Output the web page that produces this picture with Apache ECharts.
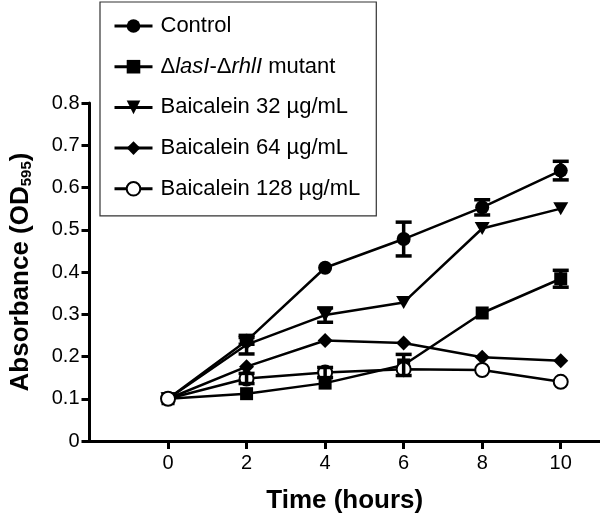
<!DOCTYPE html>
<html><head><meta charset="utf-8">
<script src="https://cdn.jsdelivr.net/npm/echarts@6/dist/echarts.min.js"></script>
<style>html,body{margin:0;padding:0;background:#fff}#c{width:600px;height:519px}</style>
</head><body><div id="c"></div>
<script>
const hours = [0, 2, 4, 6, 8, 10];
const xTicks = [0, 2, 4, 6, 8, 10];
const yTicks = [0, 0.1, 0.2, 0.3, 0.4, 0.5, 0.6, 0.7, 0.8];
const seriesNames = ['Control', 'ΔlasI-ΔrhlI mutant', 'Baicalein 32 µg/mL', 'Baicalein 64 µg/mL', 'Baicalein 128 µg/mL'];
const control   = [0.10, 0.237, 0.41, 0.478, 0.553, 0.64];
const mutant    = [0.10, 0.112, 0.137, 0.18, 0.303, 0.384];
const baic32    = [0.10, 0.228, 0.298, 0.328, 0.503, 0.55];
const baic64    = [0.10, 0.176, 0.238, 0.232, 0.198, 0.19];
const baic128   = [0.10, 0.148, 0.162, 0.17, 0.168, 0.14];
const controlErr = [0, 0.008, 0, 0.04, 0.018, 0.022];
const mutantErr  = [0, 0, 0, 0.025, 0, 0.02];
const baic32Err  = [0, 0.022, 0.017, 0, 0, 0];
const baic64Err  = [0, 0, 0, 0, 0, 0];
const baic128Err = [0, 0.012, 0.012, 0, 0, 0];

const values = [control, mutant, baic32, baic64, baic128];
const errors = [controlErr, mutantErr, baic32Err, baic64Err, baic128Err];
const symbols = ['circle', 'rect', 'triangle', 'diamond', 'emptyCircle'];
const symbolSizes = [14, 13, [15, 13], [15, 15], 14];
const symbolRotate = [0, 0, 180, 0, 0];

const chart = echarts.init(document.getElementById('c'), null, {renderer: 'canvas'});
const series = [];
values.forEach((vals, i) => {
  series.push({
    name: seriesNames[i], type: 'line',
    data: hours.map((h, j) => [h, vals[j]]),
    symbol: symbols[i], symbolSize: symbolSizes[i], symbolRotate: symbolRotate[i],
    showAllSymbol: true,
    lineStyle: {color: '#000', width: 2.5},
    itemStyle: {color: '#000', borderColor: '#000', borderWidth: i === 4 ? 3 : 0},
    emphasis: {disabled: true}, z: 3
  });
});
values.forEach((vals, i) => {
  const d = [];
  hours.forEach((h, j) => { if (errors[i][j] > 0) d.push([h, vals[j] - errors[i][j], vals[j] + errors[i][j]]); });
  series.push({
    type: 'custom', name: 'err' + i, z: 4,
    data: d,
    renderItem: function (params, api) {
      const x = api.value(0);
      const lo = api.coord([x, api.value(1)]);
      const hi = api.coord([x, api.value(2)]);
      const w = 8;
      const st = {stroke: '#000', lineWidth: 3.5};
      return {type: 'group', children: [
        {type: 'line', shape: {x1: lo[0], y1: lo[1], x2: hi[0], y2: hi[1]}, style: st},
        {type: 'line', shape: {x1: lo[0] - w, y1: lo[1], x2: lo[0] + w, y2: lo[1]}, style: st},
        {type: 'line', shape: {x1: hi[0] - w, y1: hi[1], x2: hi[0] + w, y2: hi[1]}, style: st}
      ]};
    },
    encode: {x: 0, y: [1, 2]}
  });
});

const font = 'Liberation Sans, Arial, sans-serif';
chart.setOption({
  animation: false,
  grid: {left: 88, right: 0, top: 103, bottom: 76, containLabel: false},
  legend: {
    data: seriesNames,
    orient: 'vertical', left: 100, top: 2,
    padding: [12, 16, 15, 13],
    borderColor: '#333', borderWidth: 1.2,
    itemWidth: 38, itemHeight: 17, itemGap: 16.7,
    lineStyle: {width: 3, color: '#000'},
    formatter: function (name) {
      if (name.indexOf('mutant') >= 0) return '{n|Δ}{i|lasI}{n|-Δ}{i|rhlI}{n| mutant}';
      return '{n|' + name + '}';
    },
    textStyle: {
      fontFamily: font, fontSize: 22, color: '#000', lineHeight: 24, padding: [0, 0, 0, 3],
      rich: {
        n: {fontFamily: font, fontSize: 22, color: '#000', lineHeight: 24},
        i: {fontFamily: font, fontSize: 22, color: '#000', fontStyle: 'italic', lineHeight: 24}
      }
    }
  },
  xAxis: {
    type: 'value', min: -2, max: 11, interval: 2,
    name: 'Time (hours)', nameLocation: 'middle', nameGap: 47,
    nameTextStyle: {fontFamily: font, fontSize: 26, fontWeight: 'bold', color: '#000'},
    splitLine: {show: false},
    axisLine: {onZero: false, lineStyle: {color: '#000', width: 3}},
    axisTick: {show: true, customValues: xTicks, length: 8, lineStyle: {color: '#000', width: 3}},
    axisLabel: {customValues: xTicks, fontFamily: font, fontSize: 20, color: '#000', margin: 12}
  },
  yAxis: {
    type: 'value', min: 0, max: 0.8, interval: 0.1,
    name: 'Absorbance (OD{s|595})', nameLocation: 'middle', nameGap: 55,
    nameTextStyle: {fontFamily: font, fontSize: 26, fontWeight: 'bold', color: '#000',
      rich: {s: {fontFamily: font, fontSize: 15, fontWeight: 'bold', color: '#000', verticalAlign: 'bottom', padding: [12, 0, 0, 0]}}},
    splitLine: {show: false},
    axisLine: {show: true, onZero: false, lineStyle: {color: '#000', width: 3}},
    axisTick: {show: true, length: 8, lineStyle: {color: '#000', width: 3}},
    axisLabel: {fontFamily: font, fontSize: 20, color: '#000', margin: 10,
      formatter: v => (Math.round(v * 10) / 10).toString()}
  },
  series: series
});
</script></body></html>
